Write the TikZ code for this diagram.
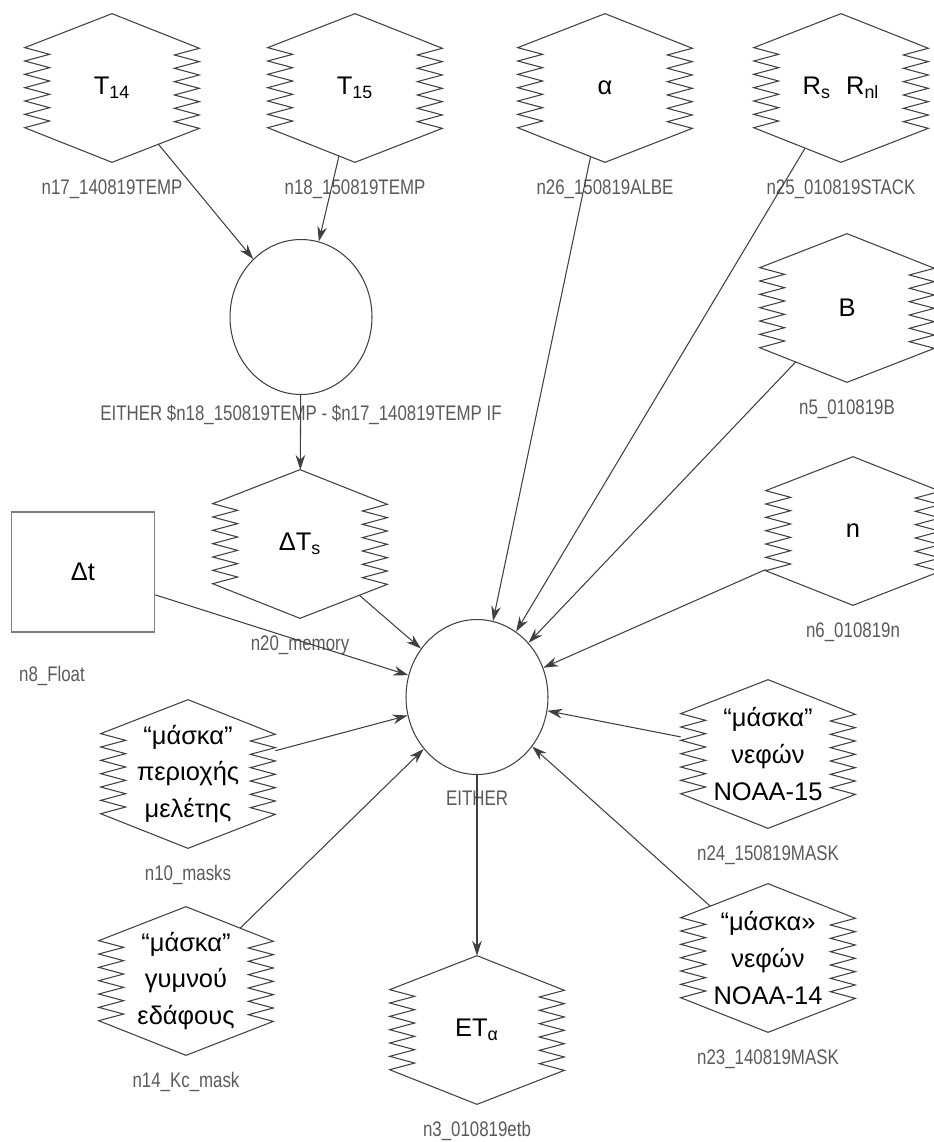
\documentclass[tikz,border=0pt]{standalone}
\usepackage{fontspec}
\setmainfont{Liberation Sans}
\newfontfamily\tagfont[FakeStretch=0.8]{Liberation Sans}
\usetikzlibrary{shapes.geometric, arrows.meta, calc, positioning}
\definecolor{edge}{HTML}{404040}
\definecolor{tagtext}{HTML}{5A5A5A}
\makeatletter
\pgfdeclareshape{hexbox}{%
\inheritsavedanchors[from=rectangle]%
\inheritanchor[from=rectangle]{center}%
\inheritanchor[from=rectangle]{text}%
\inheritanchor[from=rectangle]{base}%
\inheritanchor[from=rectangle]{mid}%
\inheritanchor[from=rectangle]{north}%
\inheritanchor[from=rectangle]{south}%
\inheritanchor[from=rectangle]{east}%
\inheritanchor[from=rectangle]{west}%
\anchorborder{%
\edef\hb@dx{\the\pgf@x}\edef\hb@dy{\the\pgf@y}%
\pgf@process{\northeast}%
\edef\hb@nx{\the\pgf@x}\edef\hb@ny{\the\pgf@y}%
\pgf@process{\southwest}%
\edef\hb@sx{\the\pgf@x}\edef\hb@sy{\the\pgf@y}%
\pgfmathsetmacro\hb@a{(\hb@nx-\hb@sx)/2}%
\pgfmathsetmacro\hb@b{(\hb@ny-\hb@sy)/2}%
\pgfmathsetmacro\hb@t{min(\hb@a/max(abs(\hb@dx),0.01),
1/(abs(\hb@dx)*0.46/\hb@a+abs(\hb@dy)/\hb@b))}%
\pgf@x=\hb@dx\pgf@x=\hb@t\pgf@x
\pgf@y=\hb@dy\pgf@y=\hb@t\pgf@y
\advance\pgf@x by .5\dimexpr\hb@nx+\hb@sx\relax
\advance\pgf@y by .5\dimexpr\hb@ny+\hb@sy\relax
}%
}
\makeatother
\tikzstyle{var} = [hexbox, minimum width=3.48cm, minimum height=2.96cm,
inner sep=0pt, align=center, font=\fontsize{14.5pt}{21pt}\selectfont]
\tikzstyle{oper} = [ellipse, draw=edge, line width=0.6pt, minimum width=2.84cm,
minimum height=3.1cm]
\tikzstyle{const} = [rectangle, draw=gray, line width=0.9pt, minimum width=2.86cm,
minimum height=2.4cm, font=\fontsize{14.5pt}{21pt}\selectfont]
\tikzstyle{tag} = [font=\tagfont\fontsize{12pt}{12pt}\selectfont, text=tagtext,
inner sep=0pt]
\tikzstyle{zz} = [draw=edge, line width=0.6pt]
\tikzstyle{arrow} = [draw=edge, line width=0.6pt,
-{Stealth[length=8.5pt, width=5.5pt]}]
\newcommand{\zzhex}[1]{%
\draw[zz] (#1.north) -- ($(#1.west |- #1.north)+(0,34)$)
\foreach \k in {1,...,6}{ -- ++(25,6.67) -- ++(-25,6.67)}
-- (#1.south) -- ($(#1.east |- #1.south)+(0,-34)$)
\foreach \k in {1,...,6}{ -- ++(-25,-6.67) -- ++(25,-6.67)}
-- cycle;}

\begin{document}
\begin{tikzpicture}[x=0.02cm, y=-0.02cm, node distance=2.02cm]
\useasboundingbox (0,0) rectangle (933,1142);

\node(t14)[var] at (112,88) {T\textsubscript{14}};
\node(t15)[var] at (355,88) {T\textsubscript{15}};
\node(albe)[var] at (605,88) {α};
\node(stack)[var] at (841,88) {R\textsubscript{s}\hspace{0.6em}R\textsubscript{nl}};
\node(bval)[var] at (847,308) {B};
\node(nval)[var] at (853,531) {n};
\node(op1)[oper] at (301,317) {};
\node(dts)[var] at (300,544) {ΔT\textsubscript{s}};
\node(dt)[const] at (83,572) {Δt};
\node(op2)[oper] at (477,697) {};
\node(area)[var] at (188,774) {“μάσκα”\\περιοχής\\μελέτης};
\node(soil)[var] at (186,981) {“μάσκα”\\γυμνού\\εδάφους};
\node(eta)[var] at (477,1030) {ET\textsubscript{α}};
\node(cl15)[var] at (768,754) {“μάσκα”\\νεφών\\NOAA-15};
\node(cl14)[var] at (768,958) {“μάσκα»\\νεφών\\NOAA-14};

\foreach \h in {t14,t15,albe,stack,bval,nval,dts,area,soil,eta,cl15,cl14}
  {\zzhex{\h}}

\node(l17)[tag, below of=t14]{n17\_140819TEMP};
\node(l18)[tag, below of=t15]{n18\_150819TEMP};
\node(l26)[tag, below of=albe]{n26\_150819ALBE};
\node(l25)[tag, below of=stack]{n25\_010819STACK};
\node(l5)[tag, below of=bval]{n5\_010819B};
\node(l6)[tag, below of=nval]{n6\_010819n};
\node(lop1)[tag, below of=op1, yshift=0.06cm]{EITHER \$n18\_150819TEMP - \$n17\_140819TEMP IF};
\node(l20)[tag, below of=dts]{n20\_memory};
\node(l8)[tag, below of=dt, xshift=-0.62cm, yshift=-0.06cm]{n8\_Float};
\node(lop2)[tag, below of=op2]{EITHER};
\node(l10)[tag, below of=area]{n10\_masks};
\node(l14)[tag, below of=soil]{n14\_Kc\_mask};
\node(l3)[tag, below of=eta]{n3\_010819etb};
\node(l24)[tag, below of=cl15]{n24\_150819MASK};
\node(l23)[tag, below of=cl14]{n23\_140819MASK};

\draw[arrow](t14) -- (op1);
\draw[arrow](t15) -- (op1);
\draw[arrow](op1) -- (dts);
\draw[arrow](dts) -- (op2);
\draw[arrow](dt) -- (op2);
\draw[arrow](area) -- (op2);
\draw[arrow](soil) -- (op2);
\draw[arrow](albe) -- (op2);
\draw[arrow](stack) -- (op2);
\draw[arrow](bval) -- (op2);
\draw[arrow](nval) -- (op2);
\draw[arrow](cl15) -- (op2);
\draw[arrow](cl14) -- (op2);
\draw[arrow](op2) -- (eta);

\end{tikzpicture}
\end{document}
